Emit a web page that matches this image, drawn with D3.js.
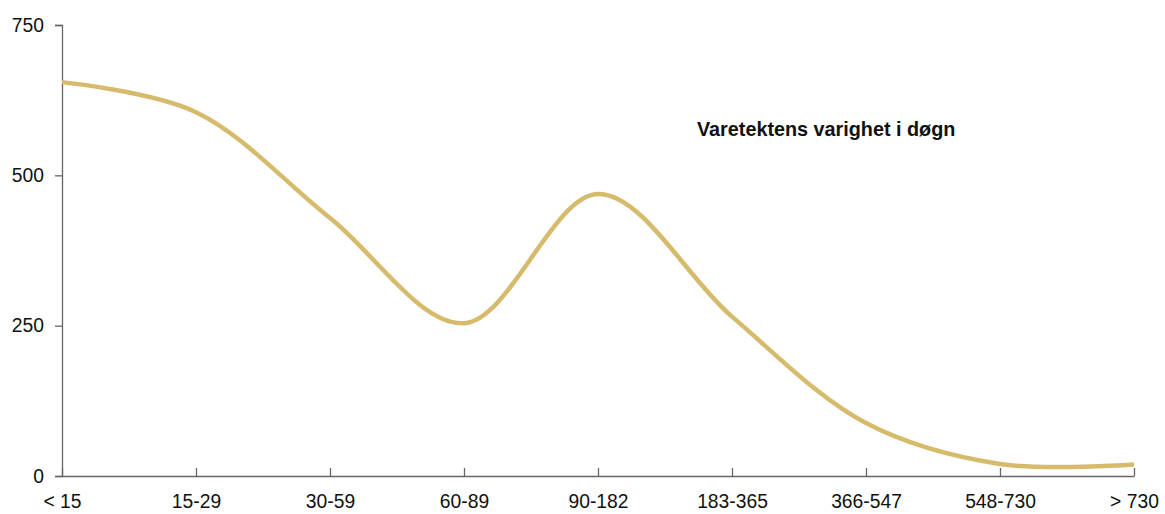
<!DOCTYPE html>
<html><head><meta charset="utf-8">
<script src="https://cdn.jsdelivr.net/npm/d3@7"></script>
<style>body{margin:0;background:#fff;}svg{display:block;font-family:"Liberation Sans",Arial,sans-serif;}</style>
</head><body>
<svg id="c" width="1165" height="514"></svg>
<script>
const categories = ["< 15","15-29","30-59","60-89","90-182","183-365","366-547","548-730","> 730"];
const values = [655, 605, 429, 254, 469, 265, 88, 20, 19];
const yTicks = [0, 250, 500, 750];
const title = "Varetektens varighet i døgn";

const svg = d3.select("#c");
const x = d3.scalePoint().domain(categories).range([62, 1134]);
const y = d3.scaleLinear().domain([0, 750]).range([476, 25]);
const axisColor = "#666";
const fs = 19.3;

// y axis
const ya = svg.append("g").attr("transform","translate(62,0)")
  .call(d3.axisLeft(y).tickValues(yTicks).tickSize(7).tickPadding(11).tickFormat(d3.format("d")));
ya.select(".domain").attr("stroke", axisColor).attr("stroke-width",1.3);
ya.selectAll(".tick line").attr("stroke", axisColor).attr("stroke-width",1.3);
ya.selectAll("text").attr("font-size",fs).attr("fill","#111").attr("font-family","Liberation Sans, Arial, sans-serif");

// x axis
const xa = svg.append("g").attr("transform","translate(0,476)")
  .call(d3.axisBottom(x).tickSizeInner(-8).tickSizeOuter(0).tickPadding(18));
xa.select(".domain").attr("stroke", axisColor).attr("stroke-width",1.3);
xa.selectAll(".tick line").attr("stroke", axisColor).attr("stroke-width",1.3);
xa.selectAll("text").attr("font-size",fs).attr("fill","#111").attr("font-family","Liberation Sans, Arial, sans-serif");

// line
const line = d3.line()
  .x((d,i)=>x(categories[i]))
  .y(d=>y(d))
  .curve(d3.curveCatmullRom.alpha(0.5));
svg.append("path").datum(values)
  .attr("d", line)
  .attr("fill","none")
  .attr("stroke","#d7bb6c")
  .attr("stroke-width",4.5)
  .attr("stroke-linecap","butt");

svg.append("text").attr("x",697).attr("y",136)
  .attr("font-size",19.8).attr("font-weight","bold").attr("fill","#111")
  .text(title);
</script>
</body></html>
